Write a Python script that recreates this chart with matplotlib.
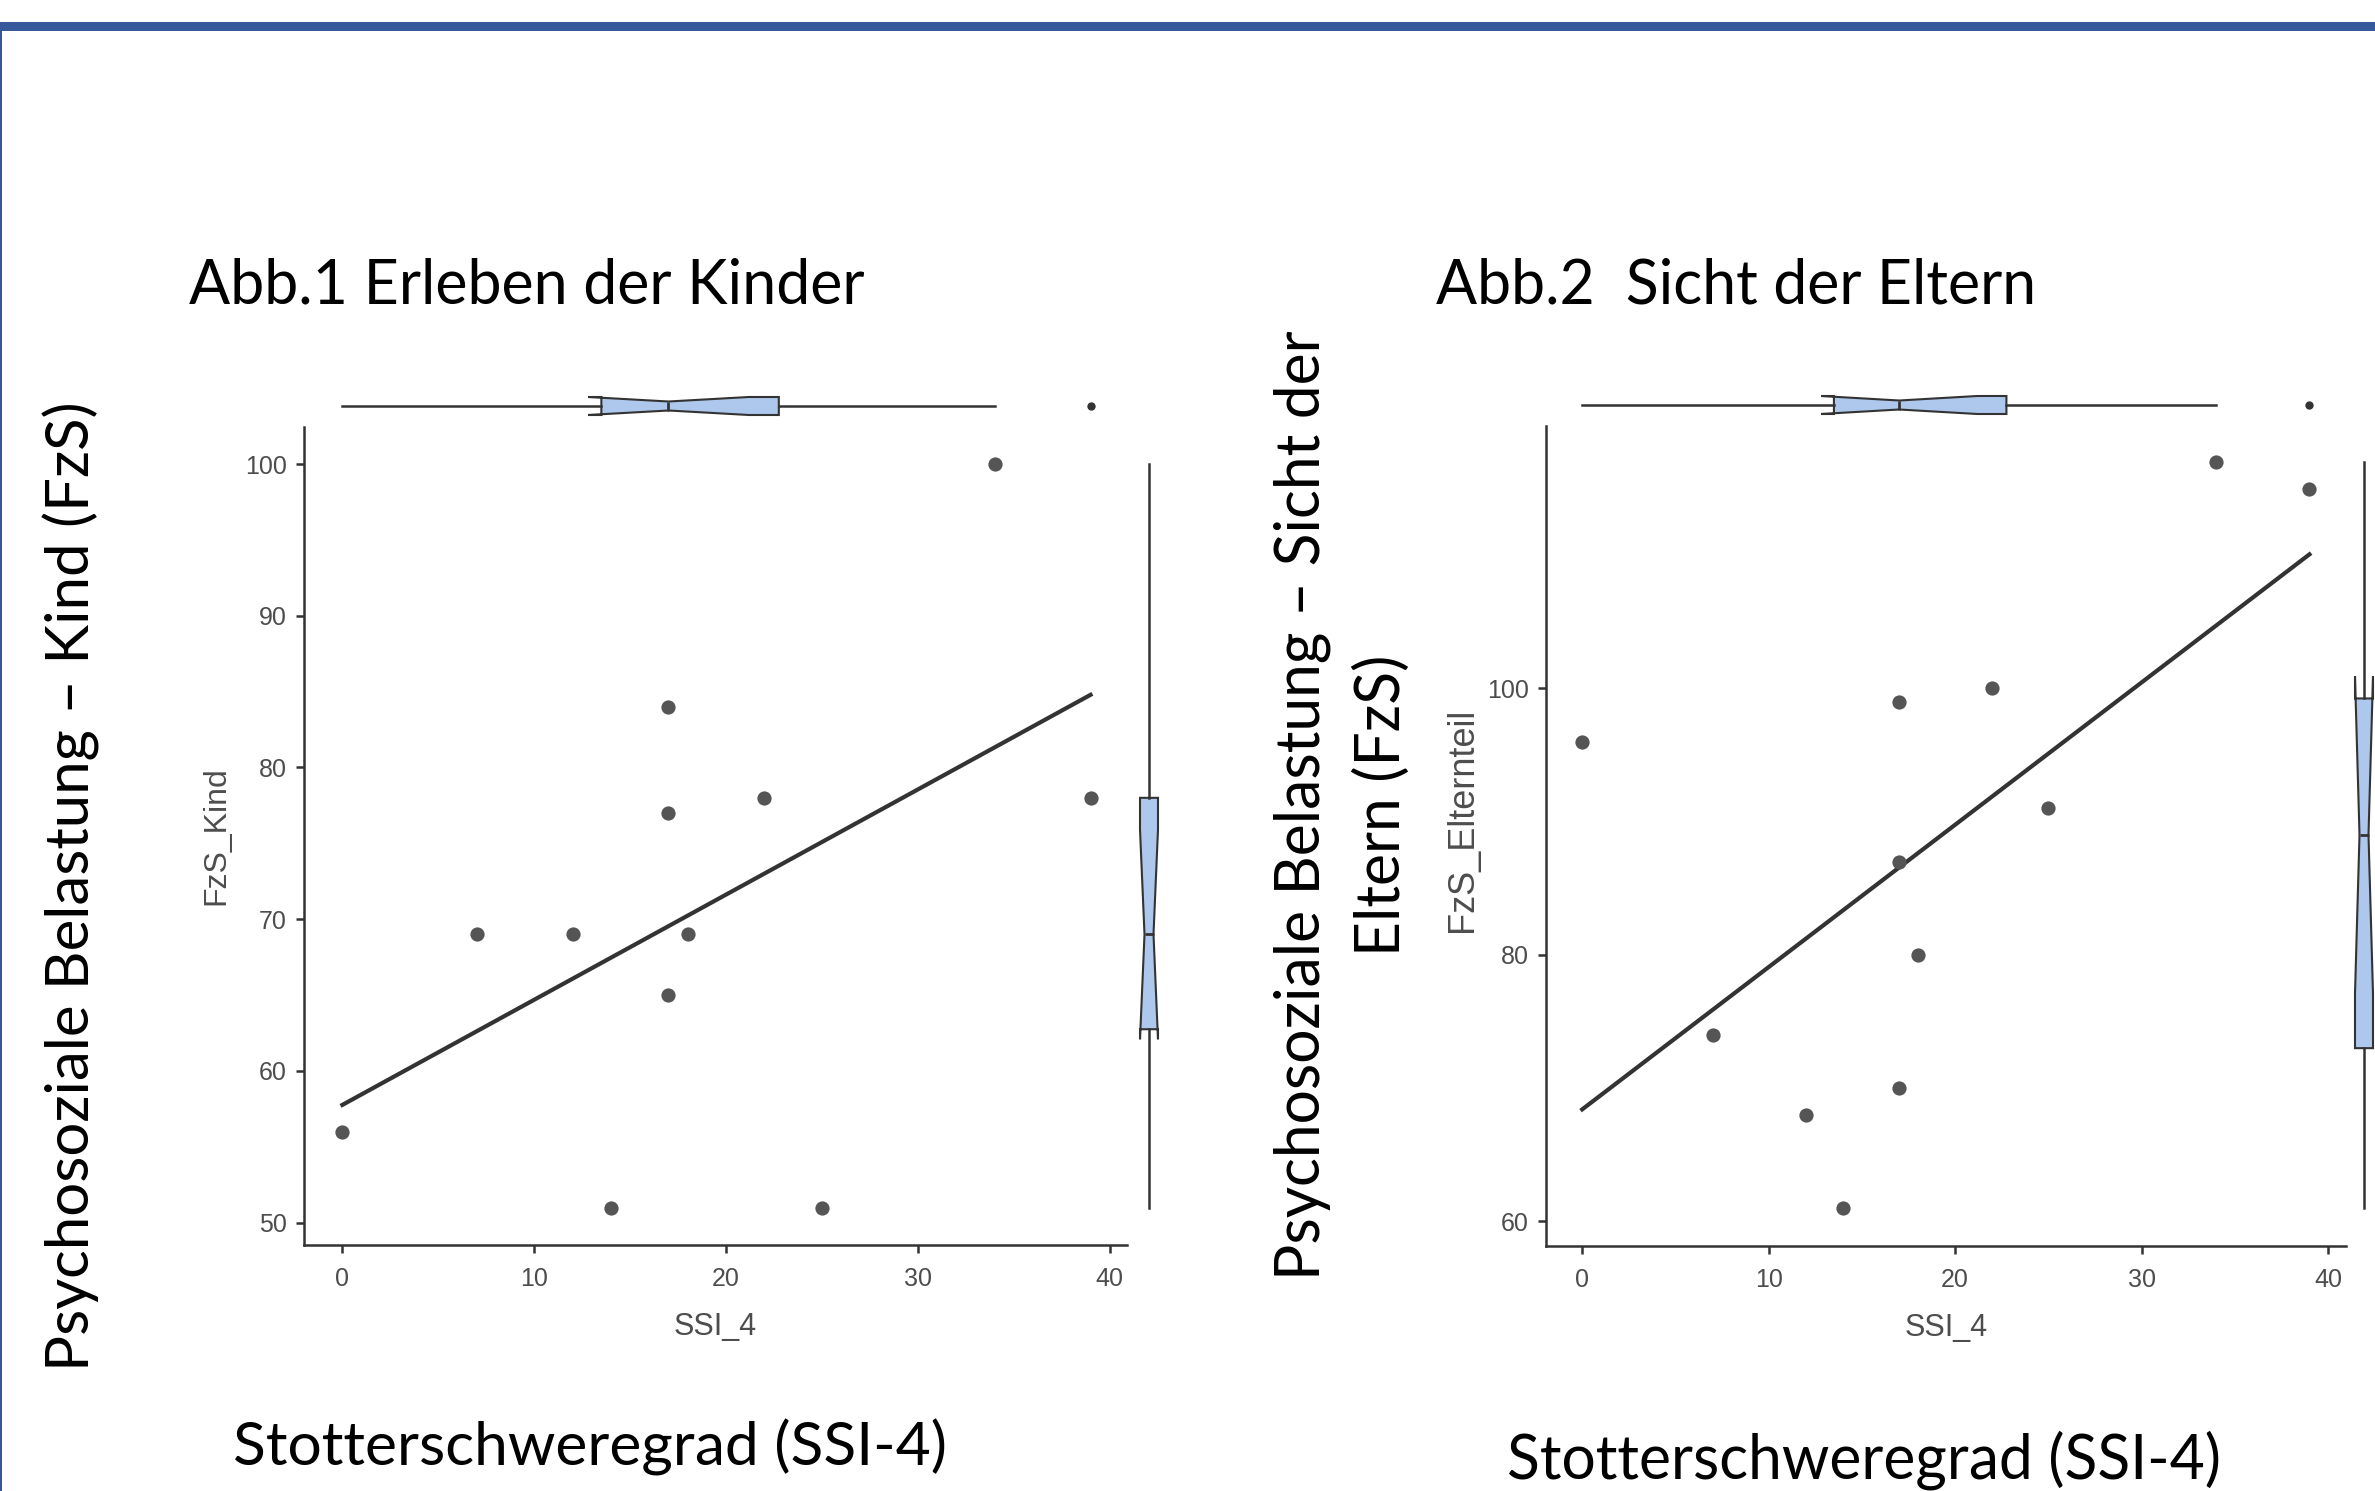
import numpy as np
import matplotlib.pyplot as plt
from matplotlib.patches import Rectangle

plt.rcParams['font.family'] = ['Liberation Sans', 'DejaVu Sans']

# values
ssi4 = [0, 7, 12, 14, 17, 17, 17, 18, 22, 25, 34, 39]
fzs_kind = [56, 69, 69, 51, 84, 77, 65, 69, 78, 51, 100, 78]
fzs_eltern = [96, 74, 68, 61, 99, 87, 70, 80, 100, 91, 117, 115]

x_ticks = [0, 10, 20, 30, 40]
kind_ticks = [50, 60, 70, 80, 90, 100]
eltern_ticks = [60, 80, 100]

DARK = '#333333'
GRAY = '#4d4d4d'
BOX = '#aec7ec'
BIG = 'Lato'

W, H = 2375, 1491
fig = plt.figure(figsize=(W / 100, H / 100), dpi=100)


def px_axes(x0, y0, x1, y1):
    # axes from pixel box (top-left origin)
    return fig.add_axes([x0 / W, 1 - y1 / H, (x1 - x0) / W, (y1 - y0) / H])


def main_plot(ax, y, xlim, ylim, yticks, ylabel, ylab_size, ylab_x, ylab_y):
    ax.scatter(ssi4, y, s=105, color='#555555', linewidths=0, zorder=3)
    coef = np.polyfit(ssi4, y, 1)
    xs = np.array([min(ssi4), max(ssi4)])
    ax.plot(xs, np.polyval(coef, xs), color=DARK, lw=3.0, zorder=2)
    ax.set_xlim(xlim)
    ax.set_ylim(ylim)
    ax.set_xticks(x_ticks)
    ax.set_yticks(yticks)
    for s in ['top', 'right']:
        ax.spines[s].set_visible(False)
    for s in ['left', 'bottom']:
        ax.spines[s].set_color(DARK)
        ax.spines[s].set_linewidth(1.8)
    ax.tick_params(length=5.5, width=1.8, color=DARK, labelcolor=GRAY, labelsize=18)
    ax.tick_params(axis='x', pad=10)
    ax.tick_params(axis='y', pad=7)
    ax.set_xlabel('SSI_4', fontsize=22, color=GRAY)
    ax.xaxis.set_label_coords(0.5, -0.1, transform=ax.transAxes)
    ax.xaxis.label.set_verticalalignment('center')
    ax.set_ylabel(ylabel, fontsize=ylab_size, color=GRAY)
    ax.yaxis.set_label_coords(ylab_x, ylab_y, transform=ax.transAxes)
    ax.yaxis.label.set_verticalalignment('center')


def marg_box(ax, data, orient, lim):
    ax.boxplot(data, notch=True, orientation=orient, widths=0.9, positions=[0],
               patch_artist=True, showcaps=False,
               boxprops=dict(facecolor=BOX, edgecolor=DARK, linewidth=1.5),
               medianprops=dict(color=DARK, linewidth=2),
               whiskerprops=dict(color=DARK, linewidth=1.8),
               flierprops=dict(marker='o', markersize=6, markerfacecolor=DARK,
                               markeredgecolor='none'))
    if orient == 'horizontal':
        ax.set_xlim(lim)
        ax.set_ylim(-1, 1)
    else:
        ax.set_ylim(lim)
        ax.set_xlim(-1, 1)
    ax.axis('off')


# Abb.1
lim_x1 = (-2.0, 40.9)
lim_y1 = (48.53, 102.44)
ax1 = px_axes(304, 427, 1127, 1245)
main_plot(ax1, fzs_kind, lim_x1, lim_y1, kind_ticks, 'FzS_Kind', 23, -0.106, 0.5)
marg_box(px_axes(304, 386, 1127, 426), ssi4, 'horizontal', lim_x1)
marg_box(px_axes(1129, 427, 1169, 1245), fzs_kind, 'vertical', lim_y1)

# Abb.2
lim_x2 = (-1.94, 40.96)
lim_y2 = (58.15, 119.7)
ax2 = px_axes(1546, 426, 2346, 1246)
main_plot(ax2, fzs_eltern, lim_x2, lim_y2, eltern_ticks, 'FzS_Elternteil', 26, -0.105, 0.52)
marg_box(px_axes(1546, 385, 2346, 425), ssi4, 'horizontal', lim_x2)
marg_box(px_axes(2344, 426, 2384, 1246), fzs_eltern, 'vertical', lim_y2)

# slide frame
fig.add_artist(Rectangle((0, 1 - 31 / H), 1, 9 / H, transform=fig.transFigure,
                         facecolor='#35599a', edgecolor='none'))
fig.add_artist(Rectangle((0, 0), 2 / W, 1 - 31 / H, transform=fig.transFigure,
                         facecolor='#3656a0', edgecolor='none'))

renderer = fig.canvas.get_renderer()


def big_text(x, y, s, target, use_height=False, **kw):
    t = fig.text(x / W, 1 - y / H, s, family=BIG, fontsize=44, color='black', **kw)
    bb = t.get_window_extent(renderer)
    size = bb.height if use_height else bb.width
    t.set_fontsize(44 * target / size)
    return t


big_text(189, 304, 'Abb.1 Erleben der Kinder', 676, ha='left', va='baseline')
big_text(1436, 304, 'Abb.2  Sicht der Eltern', 601, ha='left', va='baseline')
big_text(71, 886, 'Psychosoziale Belastung – Kind (FzS)', 970, use_height=True,
         rotation=90, ha='center', va='center')
big_text(1342, 805, 'Psychosoziale Belastung – Sicht der\nEltern (FzS)', 950,
         use_height=True, rotation=90, ha='center', va='center',
         multialignment='center', linespacing=1.5)
big_text(233, 1465, 'Stotterschweregrad (SSI-4)', 714, ha='left', va='baseline')
big_text(1507, 1478, 'Stotterschweregrad (SSI-4)', 715, ha='left', va='baseline')

fig.savefig('out.png', dpi=100)
